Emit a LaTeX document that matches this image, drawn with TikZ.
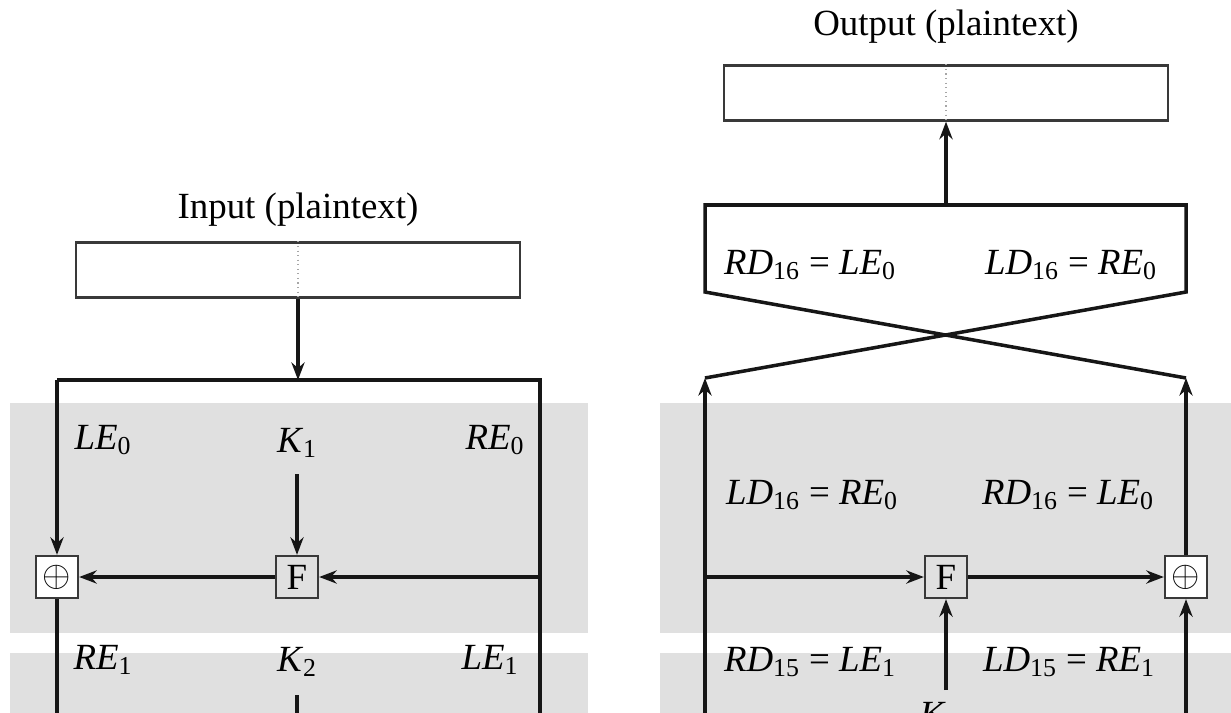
\documentclass[tikz,border=0pt]{standalone}
\usepackage{fontspec}
\setmainfont{Liberation Serif}
\usepackage{tikz}
\usetikzlibrary{arrows.meta}
\definecolor{bandG}{HTML}{E0E0E0}
\definecolor{wireK}{HTML}{161616}
\newcommand{\hv}[2]{\textit{#1}\textsubscript{#2}}

\begin{document}
\begin{tikzpicture}[x=0.02cm, y=-0.02cm, font=\fontsize{21}{25}\selectfont,
  arr/.style={-{Stealth[length=10pt, width=7.5pt]}, line width=2pt, draw=wireK},
  wire/.style={line width=2pt, draw=wireK},
  blockbox/.style={draw=wireK!85, line width=1.3pt, fill=white, minimum width=8.88cm, minimum height=1.1cm},
  fbox/.style={draw=wireK!85, line width=1.3pt, fill=bandG, minimum size=0.84cm, inner sep=0pt},
  xbox/.style={draw=wireK!85, line width=1.3pt, fill=white, minimum size=0.84cm, inner sep=0pt}]
  \useasboundingbox (0,0) rectangle (1231,713);
  \clip (0,0) rectangle (1231,713);

  % round bands
  \foreach \xa/\xb in {10/588, 660/1240}{
    \fill[bandG] (\xa,403) rectangle (\xb,633);
    \fill[bandG] (\xa,653) rectangle (\xb,720);
  }

  % encryption side
  \node (intitle) at (298,210) {Input (plaintext)};
  \node[blockbox] (inbox) at (298,270) {};
  \draw[gray!70, dotted, line width=0.6pt] (inbox.north) -- (inbox.south);
  \coordinate (tl) at (57,380);
  \coordinate (tm) at (298,380);
  \coordinate (tr) at (540,380);
  \coordinate (rmid) at (540,577);
  \coordinate (rbot) at (540,713);
  \coordinate (lbot) at (57,713);
  \coordinate (k2top) at (297,695);
  \coordinate (k2bot) at (297,713);

  \node[xbox] (xorA) at (57,577) {$\oplus$};
  \node[fbox] (fA) at (297,577) {F};
  \node (k1) at (297,443) {\hv{K}{1}};
  \node (le0) at (103,440) {\hv{LE}{0}};
  \node (re0) at (495,440) {\hv{RE}{0}};
  \node (re1) at (103,660) {\hv{RE}{1}};
  \node (k2) at (297,662) {\hv{K}{2}};
  \node (le1) at (490,660) {\hv{LE}{1}};

  \draw[arr] (inbox.south) -- (tm);
  \draw[wire, line join=miter] (tl) -- (tr) -- (rbot);
  \draw[arr] (tl) -- (xorA.north);
  \draw[arr] (rmid) -- (fA.east);
  \draw[arr] (fA.west) -- (xorA.east);
  \draw[arr] (k1.south) ++(0,10) -- (fA.north);
  \draw[wire] (xorA.south) -- (lbot);
  \draw[wire] (k2top) -- (k2bot);

  % decryption side
  \node (outtitle) at (946,27) {Output (plaintext)};
  \node[blockbox] (outbox) at (946,93) {};
  \draw[gray!70, dotted, line width=0.6pt] (outbox.north) -- (outbox.south);
  \coordinate (swl) at (705,378);
  \coordinate (swr) at (1186,378);
  \coordinate (swtop) at (946,205);
  \draw[wire, line join=miter] (swl) -- (1186,292) -- (1186,205) -- (705,205) -- (705,292) -- (swr);
  \draw[arr] (swtop) -- (outbox.south);

  \node at (810,265) {\hv{RD}{16} = \hv{LE}{0}};
  \node at (1071,265) {\hv{LD}{16} = \hv{RE}{0}};
  \node at (812,495) {\hv{LD}{16} = \hv{RE}{0}};
  \node at (1068,495) {\hv{RD}{16} = \hv{LE}{0}};
  \node at (810,662) {\hv{RD}{15} = \hv{LE}{1}};
  \node at (1069,662) {\hv{LD}{15} = \hv{RE}{1}};

  \node[fbox] (fB) at (946,577) {F};
  \node[xbox] (xorB) at (1186,577) {$\oplus$};
  \node[anchor=north, inner sep=0pt] (k16) at (946,702) {\hv{K}{16}};
  \coordinate (lmid) at (705,577);
  \coordinate (lbotB) at (705,713);
  \coordinate (rbotB) at (1186,713);
  \coordinate (k16top) at (946,690);

  \draw[arr] (lbotB) -- (swl);
  \draw[arr] (xorB.north) -- (swr);
  \draw[arr] (lmid) -- (fB.west);
  \draw[arr] (fB.east) -- (xorB.west);
  \draw[arr] (k16top) -- (fB.south);
  \draw[arr] (rbotB) -- (xorB.south);
\end{tikzpicture}
\end{document}
